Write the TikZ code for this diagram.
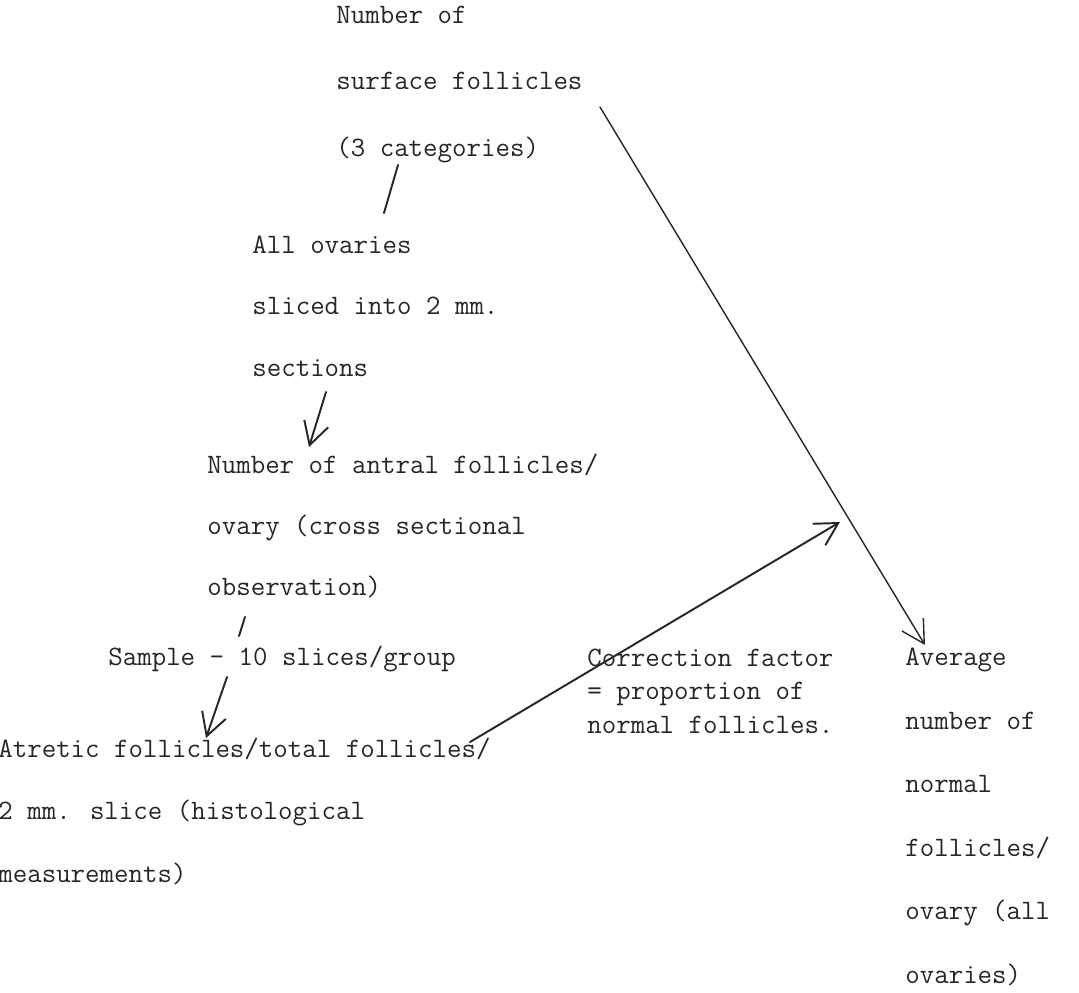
\documentclass[tikz,border=0pt]{standalone}
\usetikzlibrary{arrows.meta}
\tikzset{
  typed/.style={anchor=base west, inner sep=0pt, align=left, text=black!85},
  pen/.style={draw=black!85, line width=1.1pt, line cap=round},
  penarrow/.style={pen, -{Straight Barb[length=4.5mm, width=5mm]}},
}
\newcommand{\typeface}[1]{\fontsize{16}{#1}\selectfont\ttfamily}
\begin{document}
\begin{tikzpicture}[x=0.02cm, y=-0.02cm]
\useasboundingbox (0,0) rectangle (1079,992);
% typed blocks (placed at the baseline of their last line)
\node[typed, font=\typeface{37.8}] (surf) at (336,156) {Number of\\surface follicles\\(3 categories)};
\node[typed, font=\typeface{35}] (slice) at (252,376) {All ovaries\\sliced into 2 mm.\\sections};
\node[typed, font=\typeface{34.7}] (antral) at (207,595) {Number of antral follicles/\\ovary (cross sectional\\observation)};
\node[typed, font=\typeface{35}] (sample) at (108,665) {Sample - 10 slices/group};
\node[typed, font=\typeface{35.3}] (atretic) at (-2,882) {Atretic follicles/total follicles/\\2 mm. slice (histological\\measurements)};
\node[typed, font=\typeface{18.8}] (corr) at (587,733) {Correction factor\\= proportion of\\normal follicles.};
\node[typed, font=\typeface{36.1}] (avg) at (905,983) {Average\\number of\\normal\\follicles/\\ovary (all\\ovaries)};
% pencil strokes
\coordinate (surfA) at (398,165);
\coordinate (sliceA) at (384,213);
\coordinate (sliceB) at (326,392);
\coordinate (antralA) at (309,447);
\coordinate (antralB) at (245,617);
\coordinate (sampleA) at (239,636);
\coordinate (sampleB) at (227,677);
\coordinate (atreticA) at (206,738);
\coordinate (atreticB) at (470,742);
\coordinate (corrTip) at (840,522);
\coordinate (surfB) at (600,107);
\coordinate (avgA) at (925,645);
\draw[pen] (surfA) -- (sliceA);
\draw[penarrow] (sliceB) -- (antralA);
\draw[pen] (antralB) -- (sampleA);
\draw[penarrow] (sampleB) -- (atreticA);
\draw[penarrow] (atreticB) -- (corrTip);
\draw[penarrow, line width=0.8pt] (surfB) -- (avgA);
\end{tikzpicture}
\end{document}
